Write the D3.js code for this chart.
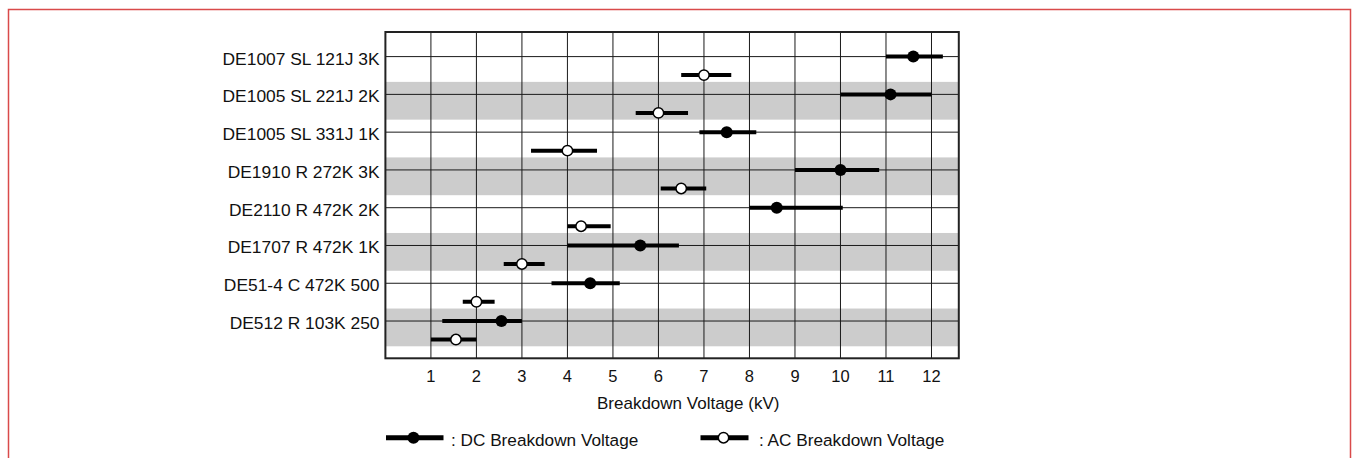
<!DOCTYPE html>
<html>
<head>
<meta charset="utf-8">
<script src="https://cdn.jsdelivr.net/npm/d3@7"></script>
<style>
  body { margin: 0; background: #fff; }
  text { font-family: "Liberation Sans", Arial, sans-serif; fill: #111; }
</style>
</head>
<body>
<div class="chart"></div>
<script>
var svgWidth = 1353;
var svgHeight = 458;

// categories, top to bottom
var parts = [
  "DE1007 SL 121J 3K",
  "DE1005 SL 221J 2K",
  "DE1005 SL 331J 1K",
  "DE1910 R 272K 3K",
  "DE2110 R 472K 2K",
  "DE1707 R 472K 1K",
  "DE51-4 C 472K 500",
  "DE512 R 103K 250"
];

// breakdown voltage (kV): range and typical value
var dcMin = [11.0, 10.0, 6.9, 9.0, 8.0, 4.0, 3.65, 1.25];
var dcMax = [12.25, 12.0, 8.15, 10.85, 10.05, 6.45, 5.15, 3.0];
var dcTyp = [11.6, 11.1, 7.5, 10.0, 8.6, 5.6, 4.5, 2.55];

var acMin = [6.5, 5.5, 3.2, 6.05, 4.0, 2.6, 1.7, 1.0];
var acMax = [7.6, 6.65, 4.65, 7.05, 4.95, 3.5, 2.4, 2.0];
var acTyp = [7.0, 6.0, 4.0, 6.5, 4.3, 3.0, 2.0, 1.55];

var xTicks = [1, 2, 3, 4, 5, 6, 7, 8, 9, 10, 11, 12];

var frame = { left: 385.4, right: 958.8, top: 32, bottom: 358.3 };

var svg = d3
  .select(".chart")
  .append("svg")
  .attr("width", svgWidth)
  .attr("height", svgHeight);

// red page border (bottom edge runs off the picture)
svg.append("rect")
  .attr("x", 8.5)
  .attr("y", 9.5)
  .attr("width", 1342)
  .attr("height", 470)
  .attr("fill", "none")
  .attr("stroke", "#d94a4a")
  .attr("stroke-width", 1.5);

var xScale = d3.scaleLinear()
  .domain([0, 12.6])
  .range([frame.left, frame.right]);

var yScale = d3.scaleBand()
  .domain(parts)
  .range([44.1, 346.3])
  .padding(0);

// row line sits a bit inside each band
var lineOffset = 12.5;
var acOffset = 18.5;
function rowY(d) { return yScale(d) + lineOffset; }

var rows = parts.map(function(p, i) {
  return {
    name: p,
    dc: [dcMin[i], dcTyp[i], dcMax[i]],
    ac: [acMin[i], acTyp[i], acMax[i]]
  };
});

// alternate grey bands
svg.append("g")
  .selectAll("rect")
  .data(parts.filter(function(d, i) { return i % 2 === 1; }))
  .enter()
  .append("rect")
  .attr("x", frame.left)
  .attr("y", d => yScale(d))
  .attr("width", frame.right - frame.left)
  .attr("height", yScale.bandwidth())
  .attr("fill", "#cccccc");

// vertical grid
svg.append("g")
  .selectAll("line")
  .data(xTicks)
  .enter()
  .append("line")
  .attr("x1", d => xScale(d))
  .attr("x2", d => xScale(d))
  .attr("y1", frame.top)
  .attr("y2", frame.bottom)
  .attr("stroke", "#1a1a1a")
  .attr("stroke-width", 1);

// horizontal grid
svg.append("g")
  .selectAll("line")
  .data(parts)
  .enter()
  .append("line")
  .attr("x1", frame.left)
  .attr("x2", frame.right)
  .attr("y1", d => rowY(d))
  .attr("y2", d => rowY(d))
  .attr("stroke", "#1a1a1a")
  .attr("stroke-width", 1);

// frame
svg.append("rect")
  .attr("x", frame.left)
  .attr("y", frame.top)
  .attr("width", frame.right - frame.left)
  .attr("height", frame.bottom - frame.top)
  .attr("fill", "none")
  .attr("stroke", "#222")
  .attr("stroke-width", 2);

// category labels
svg.append("g")
  .selectAll("text")
  .data(parts)
  .enter()
  .append("text")
  .attr("x", 379.5)
  .attr("y", d => rowY(d) + 8)
  .attr("text-anchor", "end")
  .style("font-size", "17.4px")
  .text(d => d);

// x tick labels
svg.append("g")
  .selectAll("text")
  .data(xTicks)
  .enter()
  .append("text")
  .attr("x", d => xScale(d))
  .attr("y", 381.7)
  .attr("text-anchor", "middle")
  .style("font-size", "16.5px")
  .text(d => d);

svg.append("text")
  .attr("x", 597)
  .attr("y", 409)
  .style("font-size", "17px")
  .text("Breakdown Voltage (kV)");

// range bars
var marks = svg.append("g");

marks.selectAll(".dc-bar")
  .data(rows)
  .enter()
  .append("line")
  .attr("class", "dc-bar")
  .attr("x1", d => xScale(d.dc[0]))
  .attr("x2", d => xScale(d.dc[2]))
  .attr("y1", d => rowY(d.name))
  .attr("y2", d => rowY(d.name))
  .attr("stroke", "#000")
  .attr("stroke-width", 4);

marks.selectAll(".ac-bar")
  .data(rows)
  .enter()
  .append("line")
  .attr("class", "ac-bar")
  .attr("x1", d => xScale(d.ac[0]))
  .attr("x2", d => xScale(d.ac[2]))
  .attr("y1", d => rowY(d.name) + acOffset)
  .attr("y2", d => rowY(d.name) + acOffset)
  .attr("stroke", "#000")
  .attr("stroke-width", 4);

marks.selectAll(".dc-dot")
  .data(rows)
  .enter()
  .append("circle")
  .attr("class", "dc-dot")
  .attr("cx", d => xScale(d.dc[1]))
  .attr("cy", d => rowY(d.name))
  .attr("r", 6)
  .attr("fill", "#000");

marks.selectAll(".ac-dot")
  .data(rows)
  .enter()
  .append("circle")
  .attr("class", "ac-dot")
  .attr("cx", d => xScale(d.ac[1]))
  .attr("cy", d => rowY(d.name) + acOffset)
  .attr("r", 5.2)
  .attr("fill", "#fff")
  .attr("stroke", "#000")
  .attr("stroke-width", 1.5);

// legend
var legendY = 437.7;
var legend = svg.append("g");

legend.append("line")
  .attr("x1", 386).attr("x2", 443.5)
  .attr("y1", legendY).attr("y2", legendY)
  .attr("stroke", "#000").attr("stroke-width", 5);
legend.append("circle")
  .attr("cx", 413.5).attr("cy", legendY).attr("r", 6)
  .attr("fill", "#000");
legend.append("text")
  .attr("x", 451).attr("y", legendY + 8)
  .style("font-size", "17.2px")
  .text(": DC Breakdown Voltage");

legend.append("line")
  .attr("x1", 700.5).attr("x2", 748.5)
  .attr("y1", legendY).attr("y2", legendY)
  .attr("stroke", "#000").attr("stroke-width", 5);
legend.append("circle")
  .attr("cx", 723.5).attr("cy", legendY).attr("r", 5.2)
  .attr("fill", "#fff").attr("stroke", "#000").attr("stroke-width", 1.5);
legend.append("text")
  .attr("x", 759).attr("y", legendY + 8)
  .style("font-size", "17.2px")
  .text(": AC Breakdown Voltage");
</script>
</body>
</html>
